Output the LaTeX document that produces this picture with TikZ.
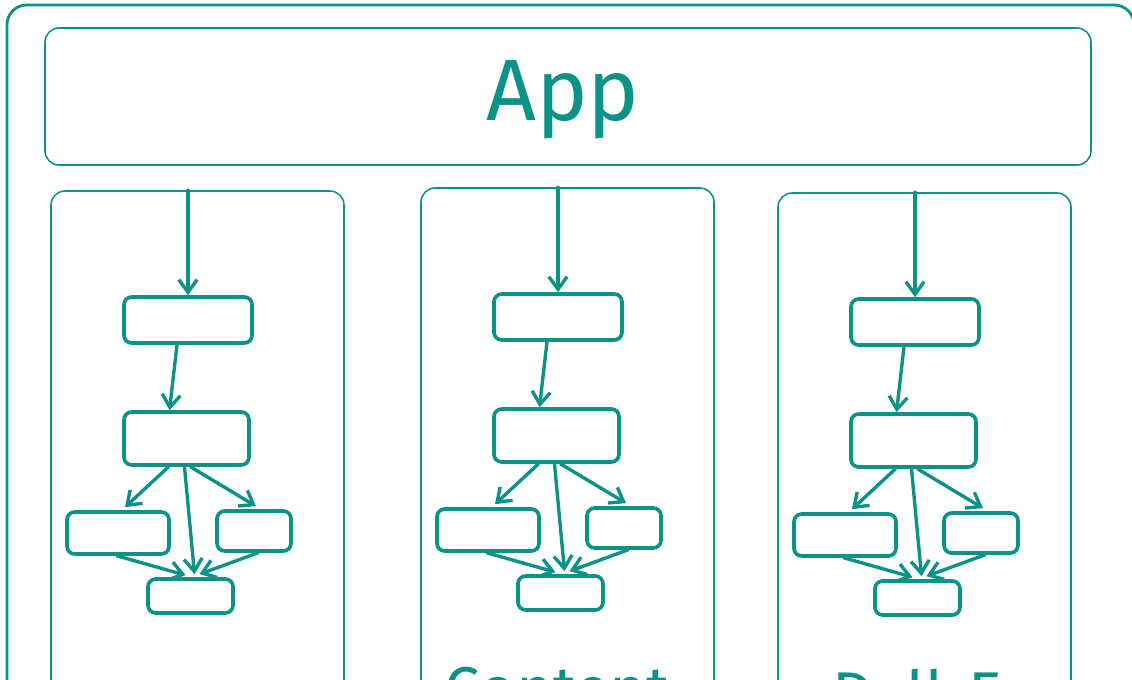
\documentclass[tikz,border=0pt]{standalone}
\usepackage{fontspec}
\setmainfont{Fira Sans}
\usetikzlibrary{arrows.meta,calc}
\definecolor{teal6}{RGB}{12,147,136}
\tikzset{
  box/.style={draw=teal6, line width=2.6pt, rounded corners=5.5pt, inner sep=0pt},
  panel/.style={draw=teal6, line width=1.1pt, rounded corners=10pt, inner sep=0pt},
  link/.style={draw=teal6, line width=2.4pt, line cap=round, -{Straight Barb[length=9pt,width=13pt]}},
  sz/.style 2 args={minimum width=#1*0.025cm, minimum height=#2*0.025cm}
}
\begin{document}
\begin{tikzpicture}[x=0.025cm, y=-0.025cm]
\useasboundingbox (0,0) rectangle (1132,679);
\clip (0,0) rectangle (1132,679);

% outer frame
\draw [teal6, line width=2pt, rounded corners=14pt] (7,5) rectangle (1134,760);

\node [panel, sz={1046}{137}] (app) at (568,96.5) {};
\node [teal6, font=\fontsize{62}{62}\selectfont] (apptext) at (563,100) {App};

% three panels, same layout
\foreach \i/\dx/\dy/\tx/\lbl in {1/0/0/68/summary, 2/370/-3/70/Content, 3/727/2/101/Dall-E} {
\begin{scope}[shift={(\dx,\dy)}]
\node [panel, sz={293}{569}] (p\i) at (197.5,475.5) {};

\node [box, sz={128}{46}] (a\i) at (188,320) {};
\node [box, sz={125}{53}] (b\i) at (186.5,438.5) {};
\node [box, sz={102}{42}] (c\i) at (118,533) {};
\node [box, sz={74}{40}] (d\i) at (254,531) {};
\node [box, sz={85}{34}] (e\i) at (190.5,596) {};

\node [teal6, font=\fontsize{45}{45}\selectfont, anchor=base west] (t\i) at (\tx,714) {\lbl};

\draw [link] (a\i.north |- p\i.north) -- (a\i.north);
\draw [link] ($(a\i.south)+(-11,0)$) -- ($(b\i.north)+(-17,0)$);
\draw [link] ($(b\i.south)+(-18,0)$) -- ($(c\i.north)+(7,-3)$);
\draw [link] ($(b\i.south)+(4,0)$) -- ($(d\i.north)+(2,-3)$);
\draw [link] ($(b\i.south)+(-2,0)$) -- ($(e\i.north)+(4,-3)$);
\draw [link] ($(c\i.south)+(-1,0)$) -- ($(e\i.north)+(-5,-2)$);
\draw [link] ($(d\i.south)+(4,0)$) -- ($(e\i.north)+(9,-3)$);
\end{scope}
}
\end{tikzpicture}
\end{document}
